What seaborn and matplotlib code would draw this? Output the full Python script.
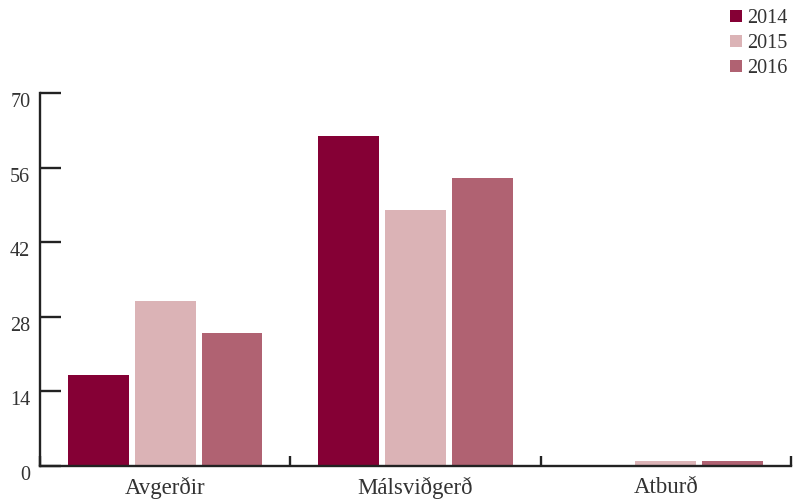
import matplotlib
matplotlib.use("Agg")
import matplotlib.pyplot as plt
import matplotlib.transforms as mtransforms
import seaborn as sns
import pandas as pd

categories = ["Avgerðir", "Málsviðgerð", "Atburð"]
years = ["2014", "2015", "2016"]
values_2014 = [17, 62, 0]
values_2015 = [31, 48, 1]
values_2016 = [25, 54, 1]
y_ticks = [0, 14, 28, 42, 56, 70]

rows = []
for yr, vals in zip(years, [values_2014, values_2015, values_2016]):
    for c, v in zip(categories, vals):
        rows.append({"cat": c, "year": yr, "value": v})
df = pd.DataFrame(rows)

sns.set_theme(style="white")
plt.rcParams["font.family"] = ["Liberation Serif", "DejaVu Serif"]
text_color = "#333333"
palette = {"2014": "#850035", "2015": "#DBB3B6", "2016": "#B06272"}

fig = plt.figure(figsize=(7.93, 5.01), dpi=100)
ax = fig.add_axes([40 / 793, 1 - 466 / 501, (791 - 40) / 793, (466 - 93) / 501])

sns.barplot(data=df, x="cat", y="value", hue="year", palette=palette,
            width=0.8, gap=0.09, ax=ax, errorbar=None, saturation=1,
            linewidth=0, legend=True)

ax.set_xlim(-0.5, 2.5)
ax.set_ylim(0, 70)
ax.set_yticks(y_ticks)
ax.set_xlabel("")
ax.set_ylabel("")

for s in ["top", "right"]:
    ax.spines[s].set_visible(False)
for s in ["left", "bottom"]:
    ax.spines[s].set_color("#222222")
    ax.spines[s].set_linewidth(1.7)
    ax.spines[s].set_zorder(5)

ax.tick_params(axis="y", left=True, direction="in", length=15, width=1.7,
               color="#222222", labelsize=14.5, labelcolor=text_color, pad=7)
ax.tick_params(axis="x", which="major", bottom=False, length=0, labelsize=16.5,
               labelcolor=text_color, pad=8)
ax.set_xticks([-0.5, 0.5, 1.5, 2.5], minor=True)
ax.tick_params(axis="x", which="minor", bottom=True, direction="in", length=7,
               width=1.7, color="#222222")

offset = mtransforms.ScaledTranslation(0, -7 / 100, fig.dpi_scale_trans)
for lab in ax.get_yticklabels():
    lab.set_transform(lab.get_transform() + offset)

ax.get_legend().remove()
handles, labels = ax.get_legend_handles_labels()
leg = fig.legend(handles, labels, loc="upper left",
                 bbox_to_anchor=(722 / 793, 1 - 1 / 501), frameon=False,
                 fontsize=14.5, handlelength=0.6, handleheight=0.6,
                 handletextpad=0.25, labelspacing=0.3, borderaxespad=0)
for t in leg.get_texts():
    t.set_color(text_color)

fig.savefig("out.png", dpi=100)
